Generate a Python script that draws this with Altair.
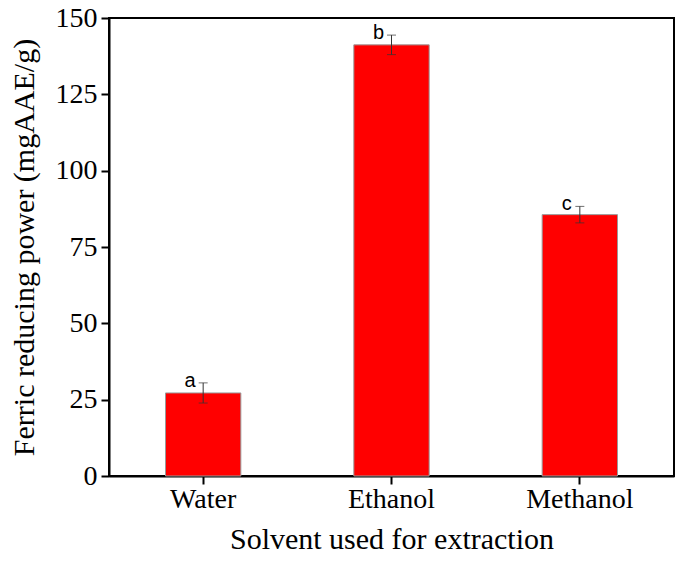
import altair as alt
import pandas as pd

solvents = ["Water", "Ethanol", "Methanol"]
values = [27.2, 141.2, 85.6]
errors = [3.3, 3.2, 2.7]
letters = ["a", "b", "c"]

df = pd.DataFrame({
    "solvent": solvents,
    "value": values,
    "err": errors,
    "letter": letters,
})
df["lo"] = df["value"] - df["err"]
df["hi"] = df["value"] + df["err"]

serif = "Liberation Serif"

x_enc = alt.X(
    "solvent:N",
    sort=solvents,
    scale=alt.Scale(paddingInner=0.6, paddingOuter=0.3),
    axis=alt.Axis(
        title="Solvent used for extraction",
        labelAngle=0,
        labelFont=serif,
        labelFontSize=28,
        labelColor="black",
        titleFont=serif,
        titleFontSize=30,
        titleFontWeight="normal",
        titleColor="black",
        titlePadding=11,
        labelPadding=1,
        tickSize=8,
        tickWidth=2,
        tickColor="black",
        domainColor="black",
        domainWidth=2,
        grid=False,
    ),
)

y_scale = alt.Scale(domain=[0, 150], nice=False)

y_axis = alt.Axis(
    title="Ferric reducing power (mgAAE/g)",
    values=[0, 12.5, 25, 37.5, 50, 62.5, 75, 87.5, 100, 112.5, 125, 137.5, 150],
    labelExpr="datum.value % 25 == 0 ? datum.label : ''",
    tickSize={"condition": {"test": "datum.value % 25 == 0", "value": 8}, "value": 4},
    tickWidth=2,
    tickColor="black",
    labelFont=serif,
    labelFontSize=28,
    labelColor="black",
    labelPadding=4,
    titleFont=serif,
    titleFontSize=30,
    titleFontWeight="normal",
    titleColor="black",
    titlePadding=16,
    domainColor="black",
    domainWidth=2,
    grid=False,
)

base = alt.Chart(df)

bars = base.mark_bar(color="#FF0000", stroke="#999999", strokeWidth=1).encode(
    x=x_enc,
    y=alt.Y("value:Q", scale=y_scale, axis=y_axis),
)

rules = base.mark_rule(color="#333333", strokeWidth=1).encode(
    x=alt.X("solvent:N", sort=solvents),
    y="lo:Q",
    y2="hi:Q",
)

cap_lo = base.mark_tick(color="#333333", thickness=1, size=9, orient="horizontal").encode(
    x=alt.X("solvent:N", sort=solvents),
    y="lo:Q",
)
cap_hi = base.mark_tick(color="#333333", thickness=1, size=9, orient="horizontal").encode(
    x=alt.X("solvent:N", sort=solvents),
    y="hi:Q",
)

labels = base.mark_text(
    font="Liberation Sans", fontSize=20, color="black", dx=-13, dy=4, baseline="alphabetic"
).encode(
    x=alt.X("solvent:N", sort=solvents),
    y="hi:Q",
    text="letter:N",
)

chart = alt.layer(bars, rules, cap_lo, cap_hi, labels).properties(
    width=565,
    height=458,
    background="white",
    autosize=alt.AutoSizeParams(type="none"),
    padding={"left": 101, "top": 10, "right": 3, "bottom": 80},
).configure_view(
    stroke="black",
    strokeWidth=2,
)

chart.save("out.html", embed_options={"renderer": "svg", "actions": False})
